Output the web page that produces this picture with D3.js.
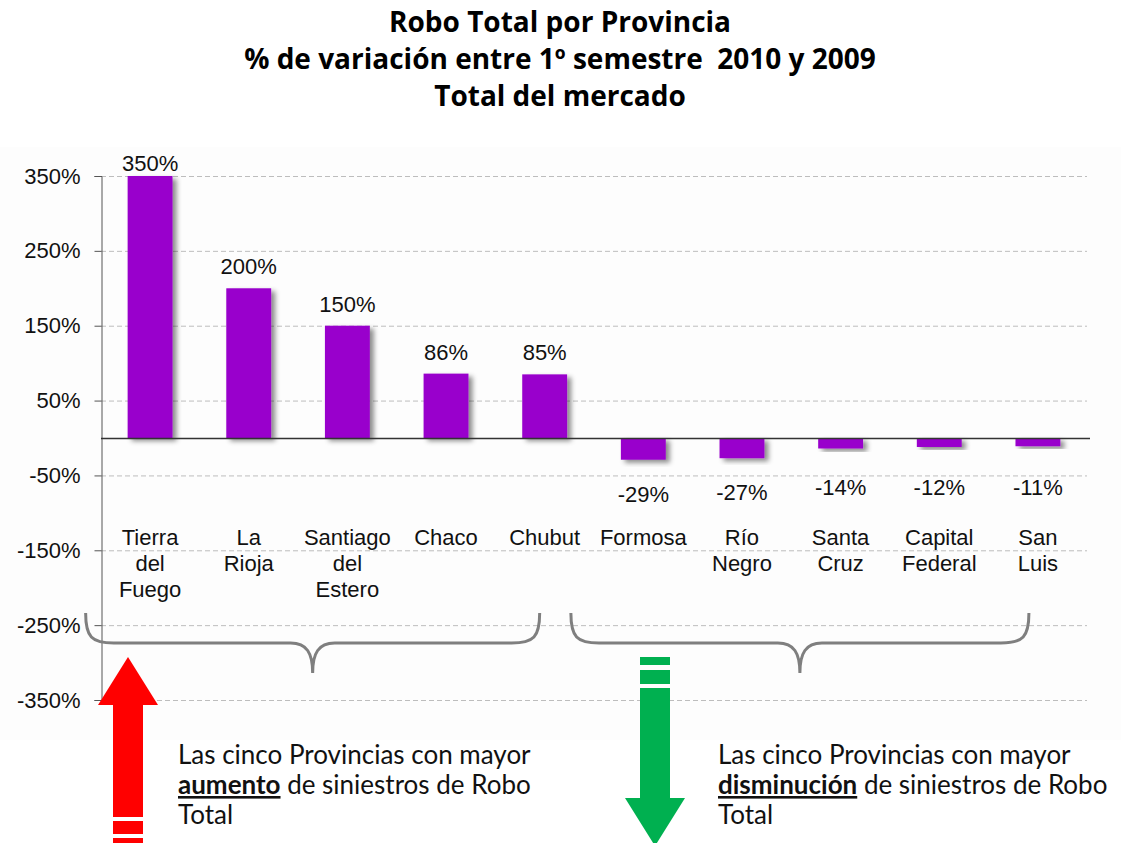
<!DOCTYPE html>
<html>
<head>
<meta charset="utf-8">
<script src="https://cdn.jsdelivr.net/npm/d3@7"></script>
<style>
  body { margin: 0; background: #fff; }
  svg { display: block; }
</style>
</head>
<body>
<div id="chart"></div>
<script>
// Data
var provincias = ["Tierra del Fuego", "La Rioja", "Santiago del Estero", "Chaco", "Chubut",
                  "Formosa", "Río Negro", "Santa Cruz", "Capital Federal", "San Luis"];
var lineas = [["Tierra", "del", "Fuego"], ["La", "Rioja"], ["Santiago", "del", "Estero"], ["Chaco"], ["Chubut"],
              ["Formosa"], ["Río", "Negro"], ["Santa", "Cruz"], ["Capital", "Federal"], ["San", "Luis"]];
var variacion = [350, 200, 150, 86, 85, -29, -27, -14, -12, -11];
var yTicks = [350, 250, 150, 50, -50, -150, -250, -350];
var titulo = ["Robo Total por Provincia", "% de variación entre 1º semestre  2010 y 2009", "Total del mercado"];

var W = 1121, H = 843;
var margin = {left: 101, right: 34},
    yTop = 176, yBottom = 700;

var svg = d3.select("#chart").append("svg")
    .attr("width", W).attr("height", H);

var defs = svg.append("defs");
var f = defs.append("filter").attr("id", "sombra")
    .attr("x", "-30%").attr("y", "-30%").attr("width", "160%").attr("height", "160%");
f.append("feDropShadow").attr("dx", 4).attr("dy", 3).attr("stdDeviation", 2.5)
    .attr("flood-color", "#000").attr("flood-opacity", 0.45);

// plot background
svg.append("rect").attr("x", 0).attr("y", 147).attr("width", W).attr("height", 593)
    .attr("fill", "#fdfdfd");

// Title
svg.append("g").selectAll("text").data(titulo).enter().append("text")
    .attr("x", 560).attr("y", function(d, i) { return 32 + i * 37; })
    .attr("text-anchor", "middle")
    .style("white-space", "pre")
    .attr("font-family", "'Open Sans', sans-serif")
    .attr("font-weight", "bold").attr("font-size", 28).attr("fill", "#000")
    .text(function(d) { return d; });

// Scales
var x = d3.scaleBand().domain(provincias).range([margin.left, W - margin.right]).paddingInner(0.545).paddingOuter(0.27);
var y = d3.scaleLinear().domain([-350, 350]).range([yBottom, yTop]);

// grid
svg.append("g").selectAll("line").data(yTicks).enter().append("line")
    .attr("x1", margin.left).attr("x2", W - margin.right)
    .attr("y1", function(d) { return y(d) + 0.5; }).attr("y2", function(d) { return y(d) + 0.5; })
    .attr("stroke", "#bdbdbd").attr("stroke-width", 1).attr("stroke-dasharray", "5,3");

// y axis
var yAxis = d3.axisLeft(y).tickValues(yTicks).tickSize(7).tickPadding(14)
    .tickFormat(function(d) { return d + "%"; });
var gy = svg.append("g").attr("transform", "translate(" + (margin.left + 0.5) + ",0)").call(yAxis);
gy.select(".domain").attr("stroke", "#555");
gy.selectAll(".tick line").attr("stroke", "#555");
gy.selectAll(".tick text").attr("font-family", "Arial, 'Liberation Sans', sans-serif")
    .attr("font-size", 22).attr("fill", "#111");

// bars
svg.append("g").selectAll("rect").data(variacion).enter().append("rect")
    .attr("x", function(d, i) { return x(provincias[i]); })
    .attr("width", x.bandwidth())
    .attr("y", function(d) { return d > 0 ? y(d) : y(0); })
    .attr("height", function(d) { return Math.abs(y(d) - y(0)); })
    .attr("fill", "#9900cc")
    .attr("filter", "url(#sombra)");

// zero line
svg.append("line").attr("x1", margin.left).attr("x2", W - margin.right + 3)
    .attr("y1", y(0) + 0.5).attr("y2", y(0) + 0.5)
    .attr("stroke", "#333").attr("stroke-width", 1.3);

// value labels
svg.append("g").selectAll("text").data(variacion).enter().append("text")
    .attr("x", function(d, i) { return x(provincias[i]) + x.bandwidth() / 2; })
    .attr("y", function(d) {
        return d > 0 ? Math.max(y(d) - 14, y(350) - 5) : Math.max(y(d) + 42, 495);
    })
    .attr("text-anchor", "middle")
    .attr("font-family", "Arial, 'Liberation Sans', sans-serif")
    .attr("font-size", 22).attr("fill", "#111")
    .text(function(d) { return d + "%"; });

// category labels
var cat = svg.append("g").selectAll("text").data(lineas).enter().append("text")
    .attr("text-anchor", "middle")
    .attr("font-family", "Arial, 'Liberation Sans', sans-serif")
    .attr("font-size", 22).attr("fill", "#111");
cat.selectAll("tspan").data(function(d, i) { return d.map(function(t) { return {t: t, i: i}; }); })
    .enter().append("tspan")
    .attr("x", function(d) { return x(provincias[d.i]) + x.bandwidth() / 2; })
    .attr("y", function(d, j) { return 545 + j * 26; })
    .text(function(d) { return d.t; });

// braces
function llave(x0, x1, top, flat, tip) {
    var m = (x0 + x1) / 2;
    return "M" + x0 + "," + top +
        "C" + x0 + "," + (flat - 6) + " " + (x0 + 6) + "," + flat + " " + (x0 + 28) + "," + flat +
        "L" + (m - 22) + "," + flat +
        "C" + (m - 6) + "," + flat + " " + m + "," + (flat + 10) + " " + m + "," + tip +
        "C" + m + "," + (flat + 10) + " " + (m + 6) + "," + flat + " " + (m + 22) + "," + flat +
        "L" + (x1 - 28) + "," + flat +
        "C" + (x1 - 6) + "," + flat + " " + x1 + "," + (flat - 6) + " " + x1 + "," + top;
}
var grupos = [[0, 4], [5, 9]];
svg.append("g").selectAll("path").data(grupos).enter().append("path")
    .attr("d", function(g) {
        var x0 = x(provincias[g[0]]) - 42 - g[0] * 1.6;
        var x1 = x(provincias[g[1]]) + x.bandwidth() / 2 - 5 - g[0] * 0.8;
        return llave(x0, x1, 613, 643, 673);
    })
    .attr("fill", "none").attr("stroke", "#7f7f7f").attr("stroke-width", 3);

// red arrow (up)
var rx = 128;
svg.append("path")
    .attr("d", "M" + rx + ",657 L" + (rx + 30) + ",705 L" + (rx + 15) + ",705 L" + (rx + 15) + ",817 L" +
        (rx - 15) + ",817 L" + (rx - 15) + ",705 L" + (rx - 30) + ",705 Z")
    .attr("fill", "#ff0000");
svg.append("rect").attr("x", rx - 15).attr("y", 821).attr("width", 30).attr("height", 13).attr("fill", "#ff0000");
svg.append("rect").attr("x", rx - 15).attr("y", 838).attr("width", 30).attr("height", 8).attr("fill", "#ff0000");

// green arrow (down)
var gx = 655;
svg.append("rect").attr("x", gx - 15).attr("y", 657).attr("width", 30).attr("height", 8).attr("fill", "#00b050");
svg.append("rect").attr("x", gx - 15).attr("y", 670).attr("width", 30).attr("height", 14).attr("fill", "#00b050");
svg.append("path")
    .attr("d", "M" + (gx - 15) + ",688 L" + (gx + 15) + ",688 L" + (gx + 15) + ",798 L" + (gx + 30) + ",798 L" +
        gx + ",846 L" + (gx - 30) + ",798 L" + (gx - 15) + ",798 Z")
    .attr("fill", "#00b050");

// annotations
function nota(x0, palabra) {
    var t = svg.append("text").attr("font-family", "Lato, 'Noto Sans', sans-serif")
        .attr("font-size", 26).attr("fill", "#111");
    t.append("tspan").attr("x", x0).attr("y", 764).text("Las cinco Provincias con mayor");
    t.append("tspan").attr("x", x0).attr("y", 794).attr("font-weight", "bold")
        .attr("text-decoration", "underline").text(palabra);
    t.append("tspan").text(" de siniestros de Robo");
    t.append("tspan").attr("x", x0).attr("y", 824).text("Total");
}
nota(178, "aumento");
nota(718, "disminución");
</script>
</body>
</html>
